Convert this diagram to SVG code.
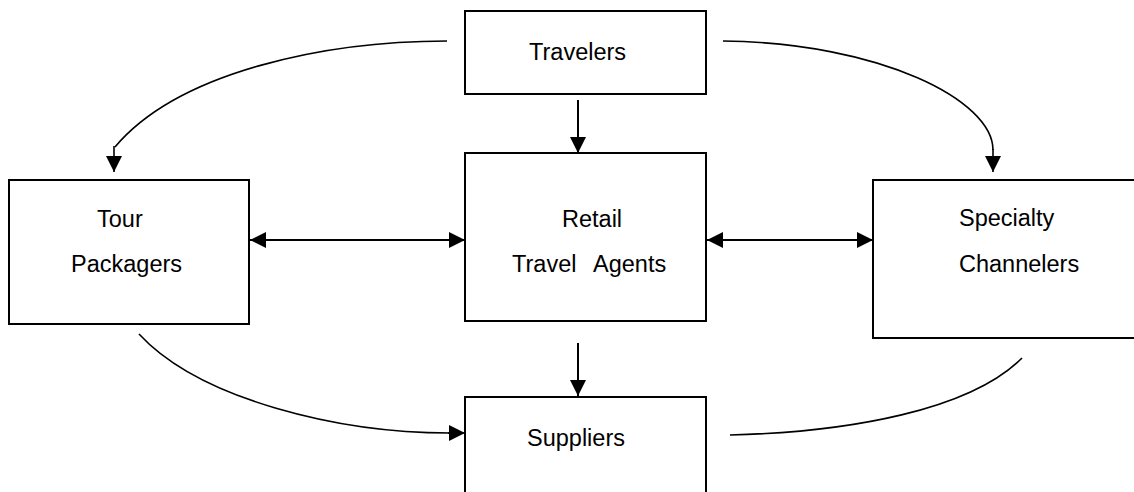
<svg xmlns="http://www.w3.org/2000/svg" width="1134" height="492" viewBox="0 0 1134 492">
<defs>
<style>
.box{fill:#fff;stroke:#000;stroke-width:2}
.t{font-family:"Liberation Sans",Arial,sans-serif;font-size:23.5px;fill:#000}
.ln{fill:none;stroke:#000;stroke-width:2}
.cv{fill:none;stroke:#000;stroke-width:1.6}
</style>
<marker id="ah" viewBox="0 0 16 16" refX="16" refY="8" markerWidth="16" markerHeight="16" markerUnits="userSpaceOnUse" orient="auto-start-reverse">
<path d="M0,0 L16,8 L0,16 Z" fill="#000"/>
</marker>
</defs>
<g id="connectors">
<line class="ln" x1="578" y1="100" x2="578" y2="153" marker-end="url(#ah)"/>
<line class="ln" x1="578" y1="343" x2="578" y2="396" marker-end="url(#ah)"/>
<line class="ln" x1="250" y1="240" x2="465" y2="240" marker-start="url(#ah)" marker-end="url(#ah)"/>
<line class="ln" x1="707" y1="240" x2="873" y2="240" marker-start="url(#ah)" marker-end="url(#ah)"/>
<path class="cv" d="M447,41 C330,41 180,70 115,147"/>
<line class="cv" x1="114" y1="146" x2="114" y2="172" marker-end="url(#ah)"/>
<path class="cv" d="M723,41 C880,43 993,100 993,150"/>
<line class="cv" x1="993" y1="149" x2="993" y2="172" marker-end="url(#ah)"/>
<path class="cv" d="M139,334 C200,400 340,433 450,433"/>
<line class="cv" x1="448" y1="433" x2="465" y2="433" marker-end="url(#ah)"/>
<path class="cv" d="M730,435 C850,432 970,410 1022,358"/>
</g>
<g id="travelers">
<rect class="box" x="465" y="11" width="241" height="83"/>
<text class="t" x="529" y="60">Travelers</text>
</g>
<g id="tour-packagers">
<rect class="box" x="9" y="180" width="240" height="144"/>
<text class="t" x="97" y="227">Tour</text>
<text class="t" x="71" y="272">Packagers</text>
</g>
<g id="retail-travel-agents">
<rect class="box" x="465" y="153" width="241" height="168"/>
<text class="t" x="562" y="227">Retail</text>
<text class="t" y="272"><tspan x="512">Travel</tspan><tspan x="593">Agents</tspan></text>
</g>
<g id="specialty-channelers">
<rect class="box" x="873" y="180" width="270" height="158"/>
<text class="t" x="959" y="226">Specialty</text>
<text class="t" x="959" y="272">Channelers</text>
</g>
<g id="suppliers">
<rect class="box" x="465" y="397" width="241" height="110"/>
<text class="t" x="527" y="446">Suppliers</text>
</g>
</svg>
